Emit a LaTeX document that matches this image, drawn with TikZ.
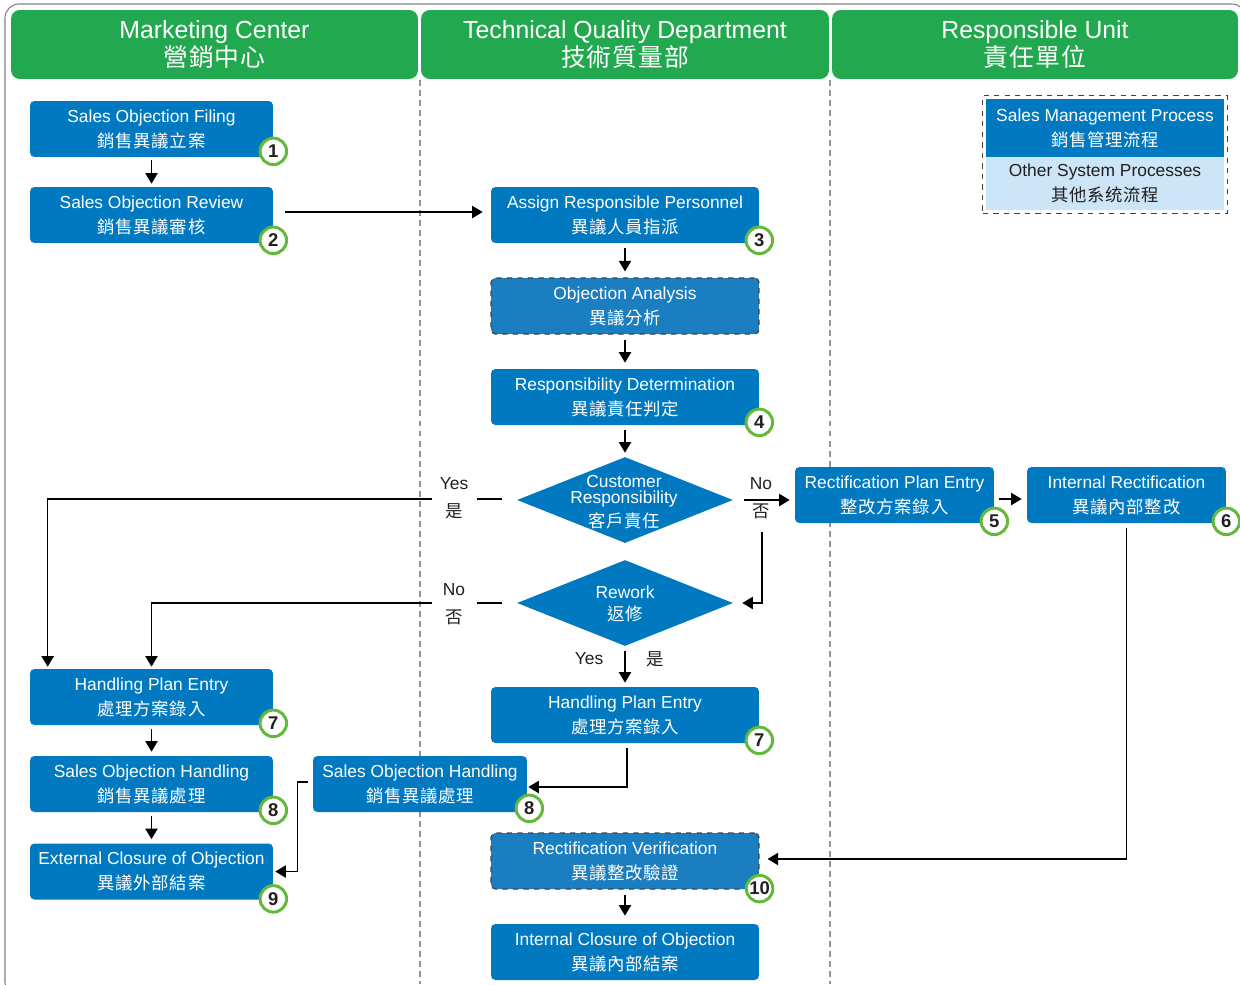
\documentclass[tikz,border=0pt]{standalone}
\usepackage{fontspec}
\setmainfont{Liberation Sans}
\newfontfamily\cjkf[LetterSpace=4]{Noto Sans CJK TC}
\newcommand\zh[1]{{\cjkf #1}}
\usetikzlibrary{shapes.geometric,arrows.meta,calc,fit}
\definecolor{hdrgreen}{RGB}{34,168,78}
\definecolor{boxblue}{RGB}{0,121,193}
\definecolor{dashblue}{RGB}{26,126,192}
\definecolor{ringgreen}{RGB}{100,185,60}
\definecolor{legendlight}{RGB}{205,230,247}
\definecolor{darktext}{RGB}{35,31,32}
\definecolor{lanegray}{RGB}{150,150,150}
\definecolor{framegray}{RGB}{130,130,130}
\tikzset{
 hdr/.style={fill=hdrgreen, rounded corners=5pt, text=white, align=center, font=\fontsize{14.1}{16.4}\selectfont, minimum height=1.38cm, inner sep=0},
 proc/.style={fill=boxblue, rounded corners=2.5pt, text=white, align=center, font=\fontsize{9.9}{14.2}\selectfont, minimum height=1.12cm, inner sep=0},
 procdash/.style={proc, fill=dashblue, draw=darktext!85, dashed, line width=0.7pt},
 dec/.style={diamond, fill=boxblue, minimum width=4.32cm, minimum height=1.72cm, inner sep=0},
 dectext/.style={text=white, align=center, font=\fontsize{9.9}{14.2}\selectfont},
 num/.style={circle, draw=ringgreen, line width=1.7pt, fill=white, minimum size=0.53cm, inner sep=0, font=\fontsize{10.5}{12}\selectfont\bfseries, text=darktext},
 arr/.style={draw=black, line width=0.75pt, -{Triangle[length=6pt,width=7pt]}},
 lbl/.style={align=center, font=\fontsize{9.9}{15.9}\selectfont, text=darktext, inner sep=0},
 lane/.style={draw=lanegray, line width=0.6pt, dash pattern=on 3.4pt off 2.3pt}
}
\begin{document}
\begin{tikzpicture}[x=0.02cm,y=-0.02cm]
\useasboundingbox (0,0) rectangle (1240,984);
\fill[white] (0,0) rectangle (1240,984);
\draw[framegray, line width=0.6pt, rounded corners=8pt] (5,4) rectangle (1246,996);

% headers
\node[hdr, minimum width=8.14cm] (h1) at (214.5,44.5) {Marketing Center\\\zh{營銷中心}};
\node[hdr, minimum width=8.16cm] (h2) at (625,44.5) {Technical Quality Department\\\zh{技術質量部}};
\node[hdr, minimum width=8.12cm] (h3) at (1035,44.5) {Responsible Unit\\\zh{責任單位}};

% lanes
\draw[lane] (420,80) -- (420,984);
\draw[lane] (830,80) -- (830,984);

% legend
\node[fill=boxblue, text=white, align=center, font=\fontsize{9.9}{14.2}\selectfont, minimum width=4.76cm, minimum height=1.16cm, inner sep=0] (lg1) at (1105,128) {Sales Management Process\\\zh{銷售管理流程}};
\node[fill=legendlight, text=darktext, align=center, font=\fontsize{9.9}{14.2}\selectfont, minimum width=4.76cm, minimum height=1.06cm, inner sep=0] (lg2) at (1105,183.5) {Other System Processes\\\zh{其他系统流程}};
\node[draw=darktext!85, dashed, line width=0.7pt, fit=(lg1)(lg2), inner sep=0.06cm] (lg) {};

% left column
\node[proc, minimum width=4.86cm] (f1) at (151.5,129) {Sales Objection Filing\\\zh{銷售異議立案}};
\node[proc, minimum width=4.86cm] (f2) at (151.5,215) {Sales Objection Review\\\zh{銷售異議審核}};
\node[proc, minimum width=4.86cm] (hp1) at (151.5,697) {Handling Plan Entry\\\zh{處理方案錄入}};
\node[proc, minimum width=4.86cm] (sh1) at (151.5,784) {Sales Objection Handling\\\zh{銷售異議處理}};
\node[proc, minimum width=4.86cm] (ec) at (151.5,871.5) {External Closure of Objection\\\zh{異議外部結案}};

% middle column
\node[proc, minimum width=5.36cm] (a3) at (625,215) {Assign Responsible Personnel\\\zh{異議人員指派}};
\node[procdash, minimum width=5.36cm] (oa) at (625,306) {Objection Analysis\\\zh{異議分析}};
\node[proc, minimum width=5.36cm] (rd) at (625,397) {Responsibility Determination\\\zh{異議責任判定}};
\node[dec] (cr) at (625,500) {};
\node[dectext] (crt) at (624,502) {Customer\\[-5pt]Responsibility\\[-1pt]\zh{客戶責任}};
\node[dec] (rw) at (625,603) {};
\node[dectext] (rwt) at (625,604) {Rework\\[-2pt]\zh{返修}};
\node[proc, minimum width=5.36cm] (hp2) at (625,715) {Handling Plan Entry\\\zh{處理方案錄入}};
\node[proc, minimum width=4.28cm] (sh2) at (420,784) {Sales Objection Handling\\\zh{銷售異議處理}};
\node[procdash, minimum width=5.36cm] (rv) at (625,861) {Rectification Verification\\\zh{異議整改驗證}};
\node[proc, minimum width=5.36cm] (ic) at (625,952) {Internal Closure of Objection\\\zh{異議內部結案}};

% right column
\node[proc, minimum width=3.98cm] (rp) at (894.5,495) {Rectification Plan Entry\\\zh{整改方案錄入}};
\node[proc, minimum width=3.98cm] (ir) at (1126.5,495) {Internal Rectification\\\zh{異議內部整改}};

% connectors
\draw[arr, shorten <=0.06cm, shorten >=0.06cm] (f1.south) -- (f2.north);
\draw[arr, shorten <=0.24cm, shorten >=0.16cm] ([yshift=0.06cm]f2.east) -- ([yshift=0.06cm]a3.west);
\draw[arr, shorten <=0.1cm, shorten >=0.12cm] (a3.south) -- (oa.north);
\draw[arr, shorten <=0.1cm, shorten >=0.12cm] (oa.south) -- (rd.north);
\draw[arr, shorten <=0.1cm, shorten >=0.08cm] (rd.south) -- (cr.north);
\draw[arr, shorten <=0.3cm, shorten >=0.04cm] ([yshift=0.02cm]cr.west) -| ($(hp1.north west)+(18,0)$);
\draw[arr, shorten <=0.3cm, shorten >=0.04cm] (rw.west) -| (hp1.north);
\draw[arr, shorten <=0.22cm, shorten >=0.1cm] (cr.east) -- (cr.east -| rp.west);
\coordinate (nosplit) at (762,532);
\draw[arr, shorten >=0.18cm] (nosplit) |- (rw.east);
\draw[arr, shorten <=0.1cm, shorten >=0.08cm] (rw.south) -- (hp2.north);
\draw[arr, shorten <=0.1cm, shorten >=0.02cm] ([xshift=0.04cm]hp2.south) |- ([yshift=-0.06cm]sh2.east);
\draw[arr, shorten <=0.1cm, shorten >=0.04cm] ([yshift=0.04cm]sh2.west) -- ++(-15,0) |- (ec.east);
\draw[arr, shorten <=0.08cm, shorten >=0.08cm] (hp1.south) -- (sh1.north);
\draw[arr, shorten <=0.08cm, shorten >=0.08cm] (sh1.south) -- (ec.north);
\draw[arr, shorten <=0.1cm, shorten >=0.1cm] ([yshift=-0.08cm]rp.east) -- ([yshift=-0.08cm]ir.west);
\draw[arr, shorten <=0.1cm, shorten >=0.16cm] (ir.south) |- ([yshift=0.04cm]rv.east);
\draw[arr, shorten <=0.1cm, shorten >=0.16cm] (rv.south) -- (ic.north);

% branch labels
\node[lbl, fill=white, minimum width=0.9cm] (ly1) at (454,498) {Yes\\\zh{是}};
\node[lbl, fill=white, minimum width=0.9cm] (ln1) at (454,604) {No\\\zh{否}};
\node[lbl] (ln2) at (761,498) {No\\\zh{否}};
\node[lbl] (ly2) at (589,659) {Yes};
\node[lbl] (ly3) at (655,659) {\zh{是}};

% step numbers
\node[num] (n1) at ($(f1.south east)+(0,-6)$) {1};
\node[num] (n2) at ($(f2.south east)+(0,-3)$) {2};
\node[num] (n3) at ($(a3.south east)+(0,-3)$) {3};
\node[num] (n4) at ($(rd.south east)+(0,-3)$) {4};
\node[num] (n5) at ($(rp.south east)+(0,-2)$) {5};
\node[num] (n6) at ($(ir.south east)+(0,-2)$) {6};
\node[num] (n7a) at ($(hp1.south east)+(0,-2)$) {7};
\node[num] (n7b) at ($(hp2.south east)+(0,-3)$) {7};
\node[num] (n8a) at ($(sh1.south east)+(0,-2)$) {8};
\node[num] (n8b) at ($(sh2.south east)+(2,-4)$) {8};
\node[num] (n9) at ($(ec.south east)+(0,-1)$) {9};
\node[num] (n10) at ($(rv.south east)+(0,-1)$) {10};
\end{tikzpicture}
\end{document}
